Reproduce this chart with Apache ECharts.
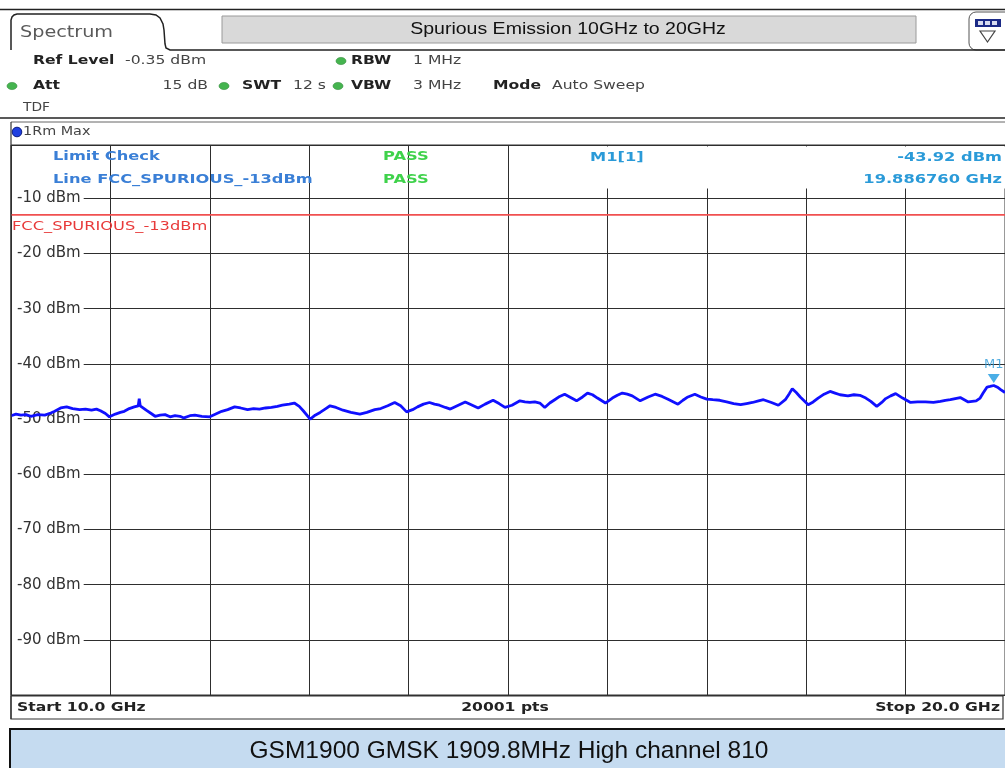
<!DOCTYPE html>
<html>
<head>
<meta charset="utf-8">
<script src="https://cdn.jsdelivr.net/npm/echarts@6/dist/echarts.min.js"></script>
<style>
html,body{margin:0;padding:0;background:#fff;}
#chart{width:1005px;height:768px;}
</style>
</head>
<body>
<div id="chart"></div>
<script>
// ---- Data ----
const freqGHz = [
  10.00,10.05,10.10,10.15,10.20,10.27,10.34,10.40,10.44,10.50,10.56,10.62,10.69,10.75,10.81,10.86,10.90,10.95,10.99,
  11.05,11.10,11.14,11.19,11.24,11.28,11.29,11.30,11.36,11.41,11.45,11.50,11.55,11.60,11.65,11.70,11.74,11.80,11.85,11.92,
  12.00,12.06,12.12,12.18,12.25,12.31,12.38,12.44,12.50,12.56,12.62,12.68,12.73,12.80,12.85,12.90,12.94,
  13.01,13.06,13.11,13.16,13.21,13.27,13.34,13.42,13.51,13.58,13.66,13.72,13.79,13.86,13.92,13.98,
  14.04,14.09,14.15,14.21,14.26,14.31,14.37,14.42,14.50,14.57,14.63,14.70,14.77,14.85,14.91,14.97,
  15.04,15.12,15.17,15.22,15.27,15.32,15.37,15.42,15.47,15.52,15.57,15.63,15.69,15.75,15.80,15.85,15.90,15.98,
  16.05,16.10,16.15,16.20,16.25,16.33,16.41,16.48,16.55,16.61,16.71,16.76,16.81,16.88,16.94,
  17.00,17.06,17.13,17.20,17.27,17.34,17.40,17.46,17.52,17.57,17.65,17.72,17.79,17.83,17.86,17.90,17.94,
  18.02,18.07,18.12,18.18,18.24,18.29,18.34,18.42,18.48,18.54,18.60,18.65,18.71,18.76,18.80,18.85,18.90,18.97,
  19.05,19.12,19.20,19.28,19.35,19.40,19.45,19.50,19.55,19.59,19.63,19.67,19.71,19.75,19.78,19.82,19.85,19.88676,19.93,19.96,20.00
];
const levelDbm = [
  -49.4,-49.1,-49.3,-49.2,-49.5,-49.2,-49.3,-48.9,-48.6,-48.0,-47.8,-48.1,-48.3,-48.2,-48.4,-48.2,-48.5,-49.0,-49.6,
  -49.1,-48.8,-48.6,-48.1,-47.8,-47.6,-46.3,-47.6,-48.4,-49.0,-49.5,-49.3,-49.2,-49.6,-49.4,-49.5,-49.8,-49.4,-49.3,-49.5,
  -49.6,-49.1,-48.6,-48.3,-47.8,-48.0,-48.3,-48.1,-48.2,-48.0,-47.9,-47.7,-47.5,-47.3,-47.1,-47.7,-48.5,
  -50.0,-49.3,-48.8,-48.2,-47.6,-47.9,-48.4,-48.8,-49.1,-48.8,-48.3,-48.1,-47.6,-47.0,-47.6,-48.7,
  -48.3,-47.8,-47.3,-47.0,-47.3,-47.5,-47.9,-48.2,-47.5,-46.9,-47.4,-48.0,-47.3,-46.6,-47.2,-47.9,
  -47.5,-46.7,-46.9,-47.0,-46.9,-47.1,-47.9,-47.1,-46.5,-45.9,-45.5,-46.1,-46.7,-46.0,-45.3,-45.6,-46.2,-47.1,
  -46.2,-45.7,-45.3,-45.5,-45.8,-46.7,-46.0,-45.5,-45.9,-46.4,-47.3,-46.6,-46.0,-45.5,-46.0,
  -46.4,-46.5,-46.6,-46.9,-47.2,-47.4,-47.2,-47.0,-46.7,-46.5,-47.0,-47.5,-46.5,-45.4,-44.5,-45.2,-46.0,
  -47.4,-46.9,-46.2,-45.5,-45.0,-45.3,-45.6,-45.8,-45.6,-45.7,-46.2,-46.8,-47.7,-47.0,-46.3,-45.8,-45.4,-46.2,
  -47.0,-46.9,-46.9,-47.0,-46.8,-46.6,-46.5,-46.3,-46.1,-46.5,-46.9,-46.8,-46.7,-46.2,-45.3,-44.2,-44.1,-43.92,-44.3,-44.7,-45.2
];
const yTickValues = [-90,-80,-70,-60,-50,-40,-30,-20,-10];
const yTickLabels = ['-90 dBm','-80 dBm','-70 dBm','-60 dBm','-50 dBm','-40 dBm','-30 dBm','-20 dBm','-10 dBm'];
const refLevelDbm = -0.35;
const bottomDbm = -100;
const startGHz = 10.0;
const stopGHz = 20.0;
const limitLevel = [-13, -13];
const limitFreq = [10.0, 20.0];
const markerFreq = [19.88676];
const markerLevel = [-43.92];

// ---- helpers ----
const FONT = '"DejaVu Sans", Verdana, sans-serif';
function T(x, y, text, o) {
  o = o || {};
  const align = o.align || 'left';
  return {
    type: 'text', x: x, y: y, scaleX: (o.sx === undefined ? 1.3 : o.sx), z: 30,
    style: {
      text: text, x: 0, y: 0,
      fill: o.color || '#333',
      font: (o.bold ? 'bold ' : '') + (o.size || 12) + 'px ' + (o.family || FONT),
      textAlign: align, align: align,
      textVerticalAlign: 'middle', verticalAlign: 'middle'
    }
  };
}
function L(x1, y1, x2, y2, c, w) {
  return { type: 'line', z: 25, shape: { x1, y1, x2, y2 }, style: { stroke: c || '#222', lineWidth: w || 1 } };
}
function dot(cx, cy, c) {
  return { type: 'ellipse', z: 30, shape: { cx, cy, rx: 5, ry: 3.6 }, style: { fill: c || '#45b44f', stroke: '#2f8a38', lineWidth: 0.6 } };
}

const trace = freqGHz.map((f, i) => [f, levelDbm[i]]);
const limitData = limitFreq.map((f, i) => [f, limitLevel[i]]);
const markerData = markerFreq.map((f, i) => [f, markerLevel[i]]);

const blueTxt = '#3a7fd6';
const cyanTxt = '#2a9ad8';
const greenTxt = '#3fd24b';

const graphics = [
  // top frame line and tab
  L(0, 9.5, 1005, 9.5, '#222', 1.5),
  { type: 'polyline', z: 25, shape: { points: [[11,50],[11,20],[12,17],[14,15],[17,14],[150,14],[156,15],[160,18],[163,24],[164,30],[165,44],[166,48],[170,50],[1005,50]] },
    style: { stroke: '#222', lineWidth: 1.5, fill: null } },
  T(20, 33, 'Spectrum', { size: 16, color: '#5a5a5a', sx: 1.2 }),
  { type: 'rect', z: 24, shape: { x: 222, y: 16, width: 694, height: 27 }, style: { fill: '#d9d9d9', stroke: '#9a9a9a', lineWidth: 1 } },
  T(568, 30, 'Spurious Emission 10GHz to 20GHz', { size: 16, color: '#111', align: 'center', sx: 1.22, family: '"Liberation Sans", Arial, sans-serif' }),
  { type: 'rect', z: 24, shape: { x: 969, y: 12, width: 45, height: 38, r: 7 }, style: { fill: '#fff', stroke: '#555', lineWidth: 1 } },
  { type: 'rect', z: 26, shape: { x: 975, y: 19, width: 26, height: 8 }, style: { fill: '#1b2a86' } },
  { type: 'rect', z: 27, shape: { x: 978, y: 21, width: 5, height: 4 }, style: { fill: '#d8dcf0' } },
  { type: 'rect', z: 27, shape: { x: 985, y: 21, width: 5, height: 4 }, style: { fill: '#d8dcf0' } },
  { type: 'rect', z: 27, shape: { x: 992, y: 21, width: 5, height: 4 }, style: { fill: '#d8dcf0' } },
  { type: 'polygon', z: 26, shape: { points: [[980,31],[995,31],[987.5,42]] }, style: { fill: '#fff', stroke: '#444', lineWidth: 1.2 } },

  // header rows
  T(33, 61, 'Ref Level', { bold: true, color: '#222' }),
  T(125, 61, '-0.35 dBm', { color: '#444' }),
  dot(341, 61),
  T(351, 61, 'RBW', { bold: true, color: '#222' }),
  T(413, 61, '1 MHz', { color: '#444' }),
  dot(12, 86),
  T(33, 86, 'Att', { bold: true, color: '#222' }),
  T(208, 86, '15 dB', { color: '#444', align: 'right' }),
  dot(224, 86),
  T(242, 86, 'SWT', { bold: true, color: '#222' }),
  T(293, 86, '12 s', { color: '#444' }),
  dot(338, 86),
  T(351, 86, 'VBW', { bold: true, color: '#222' }),
  T(413, 86, '3 MHz', { color: '#444' }),
  T(493, 86, 'Mode', { bold: true, color: '#222' }),
  T(552, 86, 'Auto Sweep', { color: '#444' }),
  T(23, 108, 'TDF', { color: '#444', sx: 1.15 }),

  // trace header row
  L(0, 118, 1005, 118, '#222', 1.5),
  L(11, 122, 1005, 122, '#666', 1),
  L(11, 122, 11, 719, '#333', 1.2),
  { type: 'circle', z: 30, shape: { cx: 17, cy: 132, r: 4.8 }, style: { fill: '#1f3fe0', stroke: '#0a1a80', lineWidth: 1 } },
  T(23, 132, '1Rm Max', { color: '#444', sx: 1.15, size: 12.5 }),

  // cover for marker info region
  { type: 'rect', z: 5, shape: { x: 545, y: 146.5, width: 460, height: 42 }, style: { fill: '#fff' } },
  T(53, 157, 'Limit Check', { bold: true, color: blueTxt, size: 12.5 }),
  T(53, 180, 'Line FCC_SPURIOUS_-13dBm', { bold: true, color: blueTxt, size: 12.5 }),
  T(383, 157, 'PASS', { bold: true, color: greenTxt, size: 12.5 }),
  T(383, 180, 'PASS', { bold: true, color: greenTxt, size: 12.5 }),
  T(590, 158, 'M1[1]', { bold: true, color: cyanTxt, size: 12.5 }),
  T(1002, 158, '-43.92 dBm', { bold: true, color: cyanTxt, size: 12.5, align: 'right' }),
  T(1002, 180, '19.886760 GHz', { bold: true, color: cyanTxt, size: 12.5, align: 'right' }),
  T(12, 227, 'FCC_SPURIOUS_-13dBm', { color: '#e83a3a', size: 12.5 }),

  // bottom info bar
  { type: 'rect', z: 24, shape: { x: 11, y: 696, width: 992, height: 23 }, style: { fill: '#fff', stroke: '#333', lineWidth: 1.2 } },
  T(17, 708, 'Start 10.0 GHz', { bold: true, color: '#222' }),
  T(505, 708, '20001 pts', { bold: true, color: '#222', align: 'center' }),
  T(1000, 708, 'Stop 20.0 GHz', { bold: true, color: '#222', align: 'right' }),

  // caption
  { type: 'rect', z: 24, shape: { x: 10, y: 729, width: 1000, height: 45 }, style: { fill: '#c5dbf0', stroke: '#111', lineWidth: 2 } },
  T(509, 751, 'GSM1900 GMSK 1909.8MHz High channel 810', { size: 24.5, color: '#111', align: 'center', sx: 1, family: '"Liberation Sans", Arial, sans-serif' })
];

const chart = echarts.init(document.getElementById('chart'), null, { renderer: 'canvas' });
chart.setOption({
  animation: false,
  backgroundColor: '#fff',
  grid: { left: 11, right: 0, top: 145, bottom: 73, show: true, borderColor: '#333', borderWidth: 1, backgroundColor: 'transparent' },
  xAxis: {
    type: 'value', min: startGHz, max: stopGHz, interval: 1,
    axisLine: { show: false }, axisTick: { show: false }, axisLabel: { show: false },
    splitLine: { show: true, lineStyle: { color: '#2e2e2e', width: 1 } }
  },
  yAxis: {
    type: 'value', min: bottomDbm, max: refLevelDbm, interval: 10,
    axisLine: { show: false }, axisTick: { show: false },
    splitLine: { show: true, lineStyle: { color: '#2e2e2e', width: 1 } },
    axisLabel: {
      inside: true, margin: 1, showMinLabel: false, showMaxLabel: false,
      color: '#333', fontFamily: 'DejaVu Sans', fontSize: 15,
      backgroundColor: '#fff', padding: [0, 3, 0, 5],
      formatter: function (v) { const i = yTickValues.indexOf(Math.round(v)); return i >= 0 ? yTickLabels[i] : ''; }
    }
  },
  graphic: { elements: graphics },
  series: [
    {
      name: 'Limit', type: 'line', data: limitData, showSymbol: false, silent: true, z: 3,
      lineStyle: { color: '#f05050', width: 1.8 }
    },
    {
      name: '1Rm Max', type: 'line', data: trace, showSymbol: false, silent: true, z: 4,
      lineStyle: { color: '#1010ff', width: 2.8 }
    },
    {
      name: 'M1', type: 'scatter', data: markerData, symbol: 'triangle', symbolRotate: 180,
      symbolSize: [12, 9], symbolOffset: [0, -7], z: 6, silent: true,
      itemStyle: { color: '#1e9ae0' },
      label: { show: true, formatter: 'M1', position: 'top', distance: 3, color: '#2a9ad8', fontFamily: 'DejaVu Sans', fontSize: 13 }
    }
  ]
});
</script>
</body>
</html>
